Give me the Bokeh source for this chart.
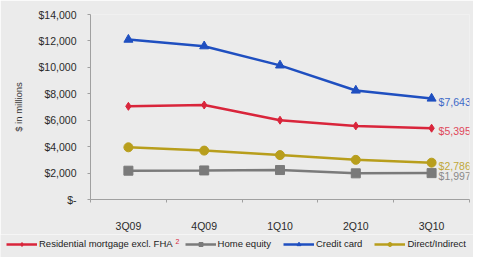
import numpy as np
from bokeh.plotting import figure
from bokeh.layouts import column
from bokeh.models import (ColumnDataSource, FixedTicker, Legend, LegendItem, Label, Range1d)
from bokeh.embed import file_html
from bokeh.resources import INLINE

quarters = ["3Q09", "4Q09", "1Q10", "2Q10", "3Q10"]
residential = [7050, 7150, 6000, 5570, 5395]
home_equity = [2180, 2200, 2230, 1980, 1997]
credit_card = [12100, 11600, 10150, 8250, 7643]
direct_indirect = [3950, 3700, 3360, 3000, 2786]
y_ticks = [0, 2000, 4000, 6000, 8000, 10000, 12000, 14000]
y_tick_labels = ["$-", "$2,000", "$4,000", "$6,000", "$8,000", "$10,000", "$12,000", "$14,000"]
end_labels = ["$5,395", "$1,997", "$7,643", "$2,786"]
series_names = ["Residential mortgage excl. FHA", "Home equity", "Credit card", "Direct/Indirect"]

FONT = "Liberation Sans"
BG = "#ebebeb"

xs = np.arange(len(quarters)) + 0.5

p = figure(width=473, height=234, output_backend="svg", toolbar_location=None,
           x_range=Range1d(0, len(quarters)), y_range=Range1d(0, 14000),
           min_border_left=90, min_border_right=4, min_border_top=14, min_border_bottom=30)
p.background_fill_color = BG
p.border_fill_color = BG
p.outline_line_color = None
p.xgrid.visible = False
p.ygrid.visible = False

# y axis
p.yaxis.ticker = FixedTicker(ticks=y_ticks, minor_ticks=[])
p.yaxis.major_label_overrides = {t: l for t, l in zip(y_ticks, y_tick_labels)}
p.yaxis.axis_label = "$ in millions"
p.yaxis.axis_label_text_font = FONT
p.yaxis.axis_label_text_font_size = "9.5px"
p.yaxis.axis_label_text_font_style = "normal"
p.yaxis.axis_label_text_color = "#333333"
p.yaxis.axis_label_standoff = 12
p.yaxis.major_label_text_font = FONT
p.yaxis.major_label_text_font_size = "10.5px"
p.yaxis.major_label_text_color = "#2a2a2a"
p.yaxis.major_label_standoff = 11
p.yaxis.axis_line_color = "#a0a0a0"
p.yaxis.major_tick_line_color = "#a0a0a0"
p.yaxis.major_tick_in = 0
p.yaxis.major_tick_out = 3

# x axis: labels at centers, ticks at boundaries
p.xaxis.ticker = FixedTicker(ticks=list(xs), minor_ticks=list(range(len(quarters) + 1)))
p.xaxis.major_label_overrides = {float(x): q for x, q in zip(xs, quarters)}
p.xaxis.major_label_text_font = FONT
p.xaxis.major_label_text_font_size = "10.5px"
p.xaxis.major_label_text_color = "#2a2a2a"
p.xaxis.major_label_standoff = 14
p.xaxis.axis_line_color = "#a0a0a0"
p.xaxis.major_tick_line_color = None
p.xaxis.minor_tick_line_color = "#a0a0a0"
p.xaxis.minor_tick_in = 0
p.xaxis.minor_tick_out = 3

colors = ["#d9253b", "#7a7a7a", "#1f4fc0", "#b89e1c"]
label_colors = ["#e0485a", "#8a8a8a", "#3d6ac8", "#c0a838"]
markers = ["diamond", "square", "triangle", "circle"]
sizes = [8, 9, 9, 9]
series = [residential, home_equity, credit_card, direct_indirect]

for vals, c, m, s in zip(series, colors, markers, sizes):
    src = ColumnDataSource(dict(x=xs, y=vals))
    p.line("x", "y", source=src, line_color=c, line_width=2.5)
    p.scatter("x", "y", source=src, marker=m, size=s, fill_color=c, line_color=c)

for vals, txt, lc in zip(series, end_labels, label_colors):
    p.add_layout(Label(x=xs[-1], y=vals[-1], text=txt, x_offset=7, y_offset=-3,
                       text_font=FONT, text_font_size="10.5px", text_color=lc,
                       text_baseline="middle"))

# legend strip (separate figure so the legend sits below the axis labels)
lg = figure(width=473, height=23, output_backend="svg", toolbar_location=None,
            x_range=Range1d(100, 101), y_range=Range1d(100, 101),
            min_border_left=0, min_border_right=0, min_border_top=0, min_border_bottom=0)
lg.frame_align = False
lg.axis.visible = False
lg.grid.visible = False
lg.outline_line_color = None
lg.background_fill_color = BG
lg.border_fill_color = BG

items = []
for name, vals, c, m in zip(series_names, series, colors, markers):
    src = ColumnDataSource(dict(x=xs, y=vals))
    r1 = lg.line("x", "y", source=src, line_color=c, line_width=2.5)
    r2 = lg.scatter("x", "y", source=src, marker=m, size=6, fill_color=c, line_color=c)
    items.append(LegendItem(label=name, renderers=[r1, r2]))

legend = Legend(items=items, orientation="horizontal", location=(6, 8),
                label_text_font=FONT, label_text_font_size="9.5px",
                label_text_color="#222222", glyph_width=31, glyph_height=10,
                label_standoff=2, spacing=12, padding=0, margin=0,
                label_height=10, background_fill_alpha=0, border_line_alpha=0)
lg.add_layout(legend)

lg.add_layout(Label(x=175, y=14, x_units="screen", y_units="screen", text="2",
                    text_font=FONT, text_font_size="7px", text_color="#d9253b"))

open("out.html", "w").write(file_html(column(p, lg, spacing=0), INLINE))
